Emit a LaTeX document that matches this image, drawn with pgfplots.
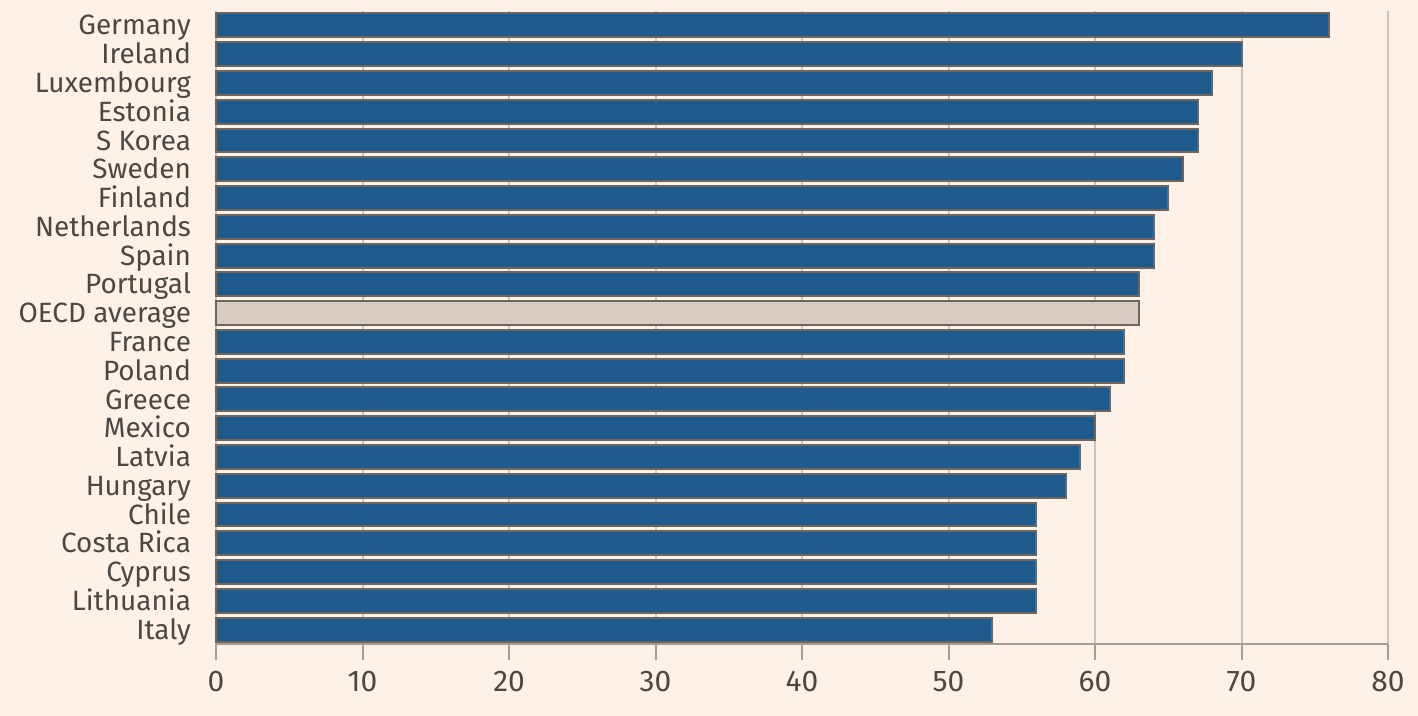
\documentclass[border=0pt]{standalone}
\usepackage{pgfplots}
\pgfplotsset{compat=1.18}
\usepackage{fontspec}
\setmainfont{Fira Sans}
\definecolor{bg}{HTML}{FFF1E5}
\definecolor{barblue}{HTML}{1F5A8C}
\definecolor{baredge}{HTML}{6B6661}
\definecolor{oecd}{HTML}{D9CDC2}
\definecolor{txt}{HTML}{4D4744}
\definecolor{grid}{HTML}{CEC3B9}
\definecolor{axisc}{HTML}{A69C94}
\begin{document}
\begin{tikzpicture}
\path[use as bounding box, fill=bg] (0,0) rectangle (709bp,358bp);
\begin{axis}[
  at={(108bp,36bp)}, anchor=south west,
  scale only axis, width=586bp, height=316.5bp,
  xbar, bar width=0.83, bar shift=0pt,
  xmin=0, xmax=80, ymin=-0.5, ymax=21.5,
  xtick={0,10,...,80},
  ytick={0,...,21},
  yticklabels={Italy,Lithuania,Cyprus,Costa Rica,Chile,Hungary,Latvia,Mexico,Greece,Poland,France,OECD average,Portugal,Spain,Netherlands,Finland,Sweden,S Korea,Estonia,Luxembourg,Ireland,Germany},
  axis x line*=bottom, axis y line*=left,
  y axis line style={draw=none},
  x axis line style={draw=axisc, line width=1bp, -},
  xmajorgrids, major grid style={draw=grid, line width=1bp},
  xtick style={draw=axisc, line width=1bp},
  major tick length=8bp, tick align=outside,
  ytick style={draw=none},
  /pgf/number format/assume math mode=true,
  tick label style={font=\fontsize{14}{16}\selectfont, text=txt},
  yticklabel style={anchor=base east, yshift=-4.8bp, xshift=-1bp},
  xticklabel style={yshift=-2bp, font=\fontsize{15}{17}\selectfont},
  clip=false,
]
\addplot[fill=barblue, draw=baredge, line width=1bp] coordinates {
(53,0) (56,1) (56,2) (56,3) (56,4) (58,5) (59,6) (60,7) (61,8) (62,9) (62,10)
(63,12) (64,13) (64,14) (65,15) (66,16) (67,17) (67,18) (68,19) (70,20) (76,21)};
\addplot[fill=oecd, draw=baredge, line width=1bp] coordinates {(63,11)};
\end{axis}
\end{tikzpicture}
\end{document}
